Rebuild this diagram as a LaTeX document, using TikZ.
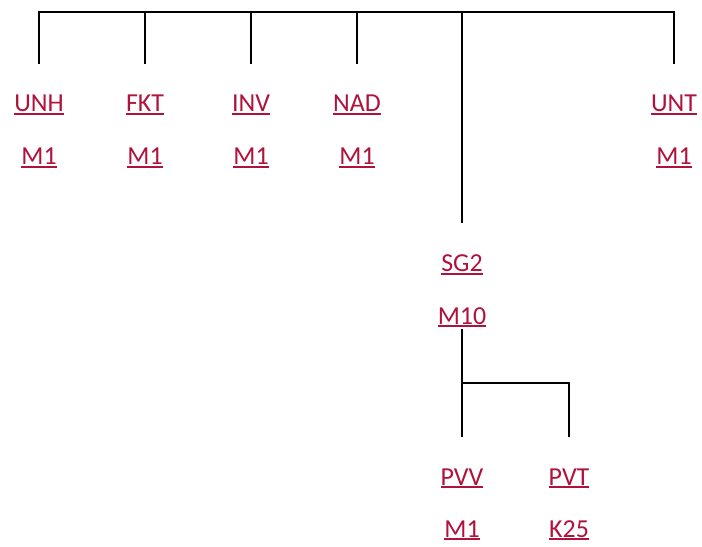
\documentclass[tikz,border=0pt]{standalone}
\usepackage{fontspec}
\setmainfont{Carlito}
\usetikzlibrary{positioning}
\definecolor{linkred}{HTML}{B0123C}
\newcommand\linktext[1]{\setbox0\hbox{#1}\rlap{\raisebox{-3bp}{\rule{\wd0}{1.8bp}}}\box0}

\begin{document}
\begin{tikzpicture}[x=1bp,y=-1bp,
    seg/.style={text=linkred, font=\fontsize{26}{26}\selectfont, inner sep=0pt, anchor=base},
    tree/.style={line width=2bp}]
    \useasboundingbox (0,0) rectangle (702,547);

    % Segment groups, first level
    \node[seg] (unh) at (39,112) {\linktext{UNH}};
    \node[seg] (fkt) at (145,112) {\linktext{FKT}};
    \node[seg] (inv) at (251,112) {\linktext{INV}};
    \node[seg] (nad) at (357,112) {\linktext{NAD}};
    \node[seg] (unt) at (674,112) {\linktext{UNT}};
    \node[seg] (unhst) at (39,165) {\linktext{M1}};
    \node[seg] (fktst) at (145,165) {\linktext{M1}};
    \node[seg] (invst) at (251,165) {\linktext{M1}};
    \node[seg] (nadst) at (357,165) {\linktext{M1}};
    \node[seg] (untst) at (674,165) {\linktext{M1}};

    % Segment group 2
    \node[seg] (sg) at (462,272) {\linktext{SG2}};
    \node[seg] (sgst) at (462,324) {\linktext{M10}};
    \node[seg] (pvv) at (462,485) {\linktext{PVV}};
    \node[seg] (pvt) at (569,485) {\linktext{PVT}};
    \node[seg] (pvvst) at (462,537) {\linktext{M1}};
    \node[seg] (pvtst) at (569,537) {\linktext{K25}};

    % Tree lines
    \coordinate (root) at (462,12);
    \coordinate (fork) at (462,383);
    \foreach \n in {unh,fkt,inv,nad,unt}
        \draw[tree, shorten >=31bp] (root) -| (\n.north);
    \draw[tree, shorten >=32bp] (root) -- (sg.north);
    \draw[tree, shorten <=2bp, shorten >=31bp] (sgst.south) -- (pvv.north);
    \draw[tree, shorten >=31bp] (fork) -| (pvt.north);
\end{tikzpicture}
\end{document}
